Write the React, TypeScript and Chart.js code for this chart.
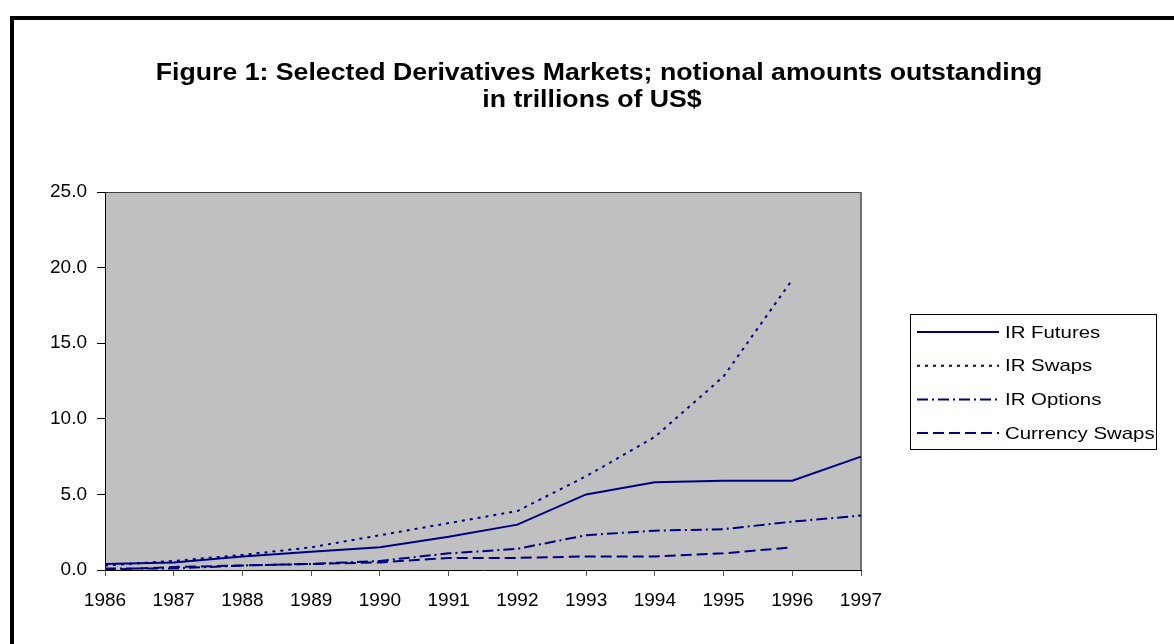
import React, { useEffect, useRef } from "react";
import { Chart, registerables } from "chart.js";

Chart.register(...registerables);

const years = ["1986", "1987", "1988", "1989", "1990", "1991", "1992", "1993", "1994", "1995", "1996", "1997"];
const irFutures = [0.4, 0.5, 0.9, 1.2, 1.5, 2.2, 3.0, 5.0, 5.8, 5.9, 5.9, 7.5];
const irSwaps = [0.3, 0.6, 1.0, 1.5, 2.3, 3.1, 3.9, 6.2, 8.8, 12.8, 19.2, null];
const irOptions = [0.1, 0.1, 0.3, 0.4, 0.6, 1.1, 1.4, 2.3, 2.6, 2.7, 3.2, 3.6];
const currencySwaps = [0.0, 0.2, 0.3, 0.4, 0.5, 0.8, 0.8, 0.9, 0.9, 1.1, 1.5, null];
const seriesNames = ["IR Futures", "IR Swaps", "IR Options", "Currency Swaps"];
const titleLines = [
  "Figure 1: Selected Derivatives Markets; notional amounts outstanding",
  "in trillions of US$",
];
const yMin = 0;
const yMax = 25;
const yStep = 5;

const FONT = "'Liberation Sans', Arial, sans-serif";
const NAVY = "#000080";

function drawStretched(ctx: CanvasRenderingContext2D, text: string, x: number, y: number, sx: number) {
  ctx.save();
  ctx.translate(x, y);
  ctx.scale(sx, 1);
  ctx.fillText(text, 0, 0);
  ctx.restore();
}

const framePlugin = {
  id: "frame",
  beforeDraw(chart: any) {
    const { ctx, chartArea, width, height } = chart;
    ctx.save();
    ctx.fillStyle = "#ffffff";
    ctx.fillRect(0, 0, width, height);
    ctx.strokeStyle = "#000000";
    ctx.lineWidth = 4;
    ctx.strokeRect(12, 18, width + 40, height + 40);
    // plot background
    ctx.fillStyle = "#C0C0C0";
    ctx.fillRect(chartArea.left, chartArea.top, chartArea.right - chartArea.left, chartArea.bottom - chartArea.top);
    ctx.strokeStyle = "#404040";
    ctx.lineWidth = 1;
    ctx.beginPath();
    ctx.moveTo(chartArea.left, chartArea.top + 0.5);
    ctx.lineTo(chartArea.right, chartArea.top + 0.5);
    ctx.stroke();
    ctx.strokeStyle = "#707070";
    ctx.lineWidth = 2;
    ctx.beginPath();
    ctx.moveTo(chartArea.right, chartArea.top);
    ctx.lineTo(chartArea.right, chartArea.bottom);
    ctx.stroke();
    // title
    ctx.fillStyle = "#000000";
    ctx.font = `bold 23px ${FONT}`;
    ctx.textAlign = "center";
    ctx.textBaseline = "alphabetic";
    drawStretched(ctx, titleLines[0], 599, 80, 1.16);
    drawStretched(ctx, titleLines[1], 592, 107, 1.16);
    ctx.restore();
  },
};

const legendPlugin = {
  id: "customLegend",
  afterDraw(chart: any) {
    const { ctx } = chart;
    ctx.save();
    ctx.strokeStyle = "#000000";
    ctx.lineWidth = 1;
    ctx.strokeRect(910.5, 314.5, 246, 135);
    chart.data.datasets.forEach((ds: any, i: number) => {
      const y = 332 + i * 33.7;
      ctx.strokeStyle = ds.borderColor;
      ctx.lineWidth = 2;
      ctx.setLineDash(ds.borderDash || []);
      ctx.beginPath();
      ctx.moveTo(917, y);
      ctx.lineTo(999, y);
      ctx.stroke();
      ctx.setLineDash([]);
      ctx.fillStyle = "#000000";
      ctx.font = `17px ${FONT}`;
      ctx.textAlign = "left";
      ctx.textBaseline = "middle";
      drawStretched(ctx, ds.label, 1005, y + 1, 1.2);
    });
    ctx.restore();
  },
};

export default function App() {
  const canvasRef = useRef<HTMLCanvasElement | null>(null);

  useEffect(() => {
    document.body.style.margin = "0";
    const canvas = canvasRef.current;
    if (!canvas) return;
    const mk = (label: string, data: (number | null)[], dash: number[]) => ({
      label,
      data,
      borderColor: NAVY,
      backgroundColor: NAVY,
      borderWidth: 2,
      borderDash: dash,
      pointRadius: 0,
      tension: 0,
      fill: false,
      spanGaps: false,
    });
    const chart = new Chart(canvas, {
      type: "line",
      data: {
        labels: years,
        datasets: [
          mk(seriesNames[0], irFutures, []),
          mk(seriesNames[1], irSwaps, [3, 5]),
          mk(seriesNames[2], irOptions, [11, 4, 2, 4]),
          mk(seriesNames[3], currencySwaps, [11, 5]),
        ],
      },
      options: {
        animation: false,
        responsive: true,
        maintainAspectRatio: false,
        layout: { padding: { top: 192, right: 313, left: 0, bottom: 0 } },
        plugins: {
          legend: { display: false },
          title: { display: false },
          tooltip: { enabled: false },
        },
        scales: {
          x: {
            type: "category",
            offset: false,
            afterFit: (scale: any) => {
              scale.height = 74;
            },
            grid: {
              drawOnChartArea: false,
              drawTicks: true,
              tickLength: 6,
              color: "#555555",
            },
            border: { display: true, color: "#000000", width: 1 },
            ticks: {
              color: "#000000",
              font: { family: FONT, size: 19 },
              padding: 13,
              maxRotation: 0,
              autoSkip: false,
            },
          },
          y: {
            min: yMin,
            max: yMax,
            afterFit: (scale: any) => {
              scale.width = 105;
            },
            grid: {
              drawOnChartArea: false,
              drawTicks: true,
              tickLength: 8,
              color: "#000000",
            },
            border: { display: true, color: "#000000", width: 1 },
            ticks: {
              stepSize: yStep,
              color: "#000000",
              font: { family: FONT, size: 19 },
              padding: 10,
              callback: (v: any) => Number(v).toFixed(1),
            },
          },
        },
      },
      plugins: [framePlugin, legendPlugin],
    });
    return () => chart.destroy();
  }, []);

  return (
    <div style={{ position: "absolute", left: 0, top: 0, width: 1174, height: 644 }}>
      <canvas ref={canvasRef} />
    </div>
  );
}
